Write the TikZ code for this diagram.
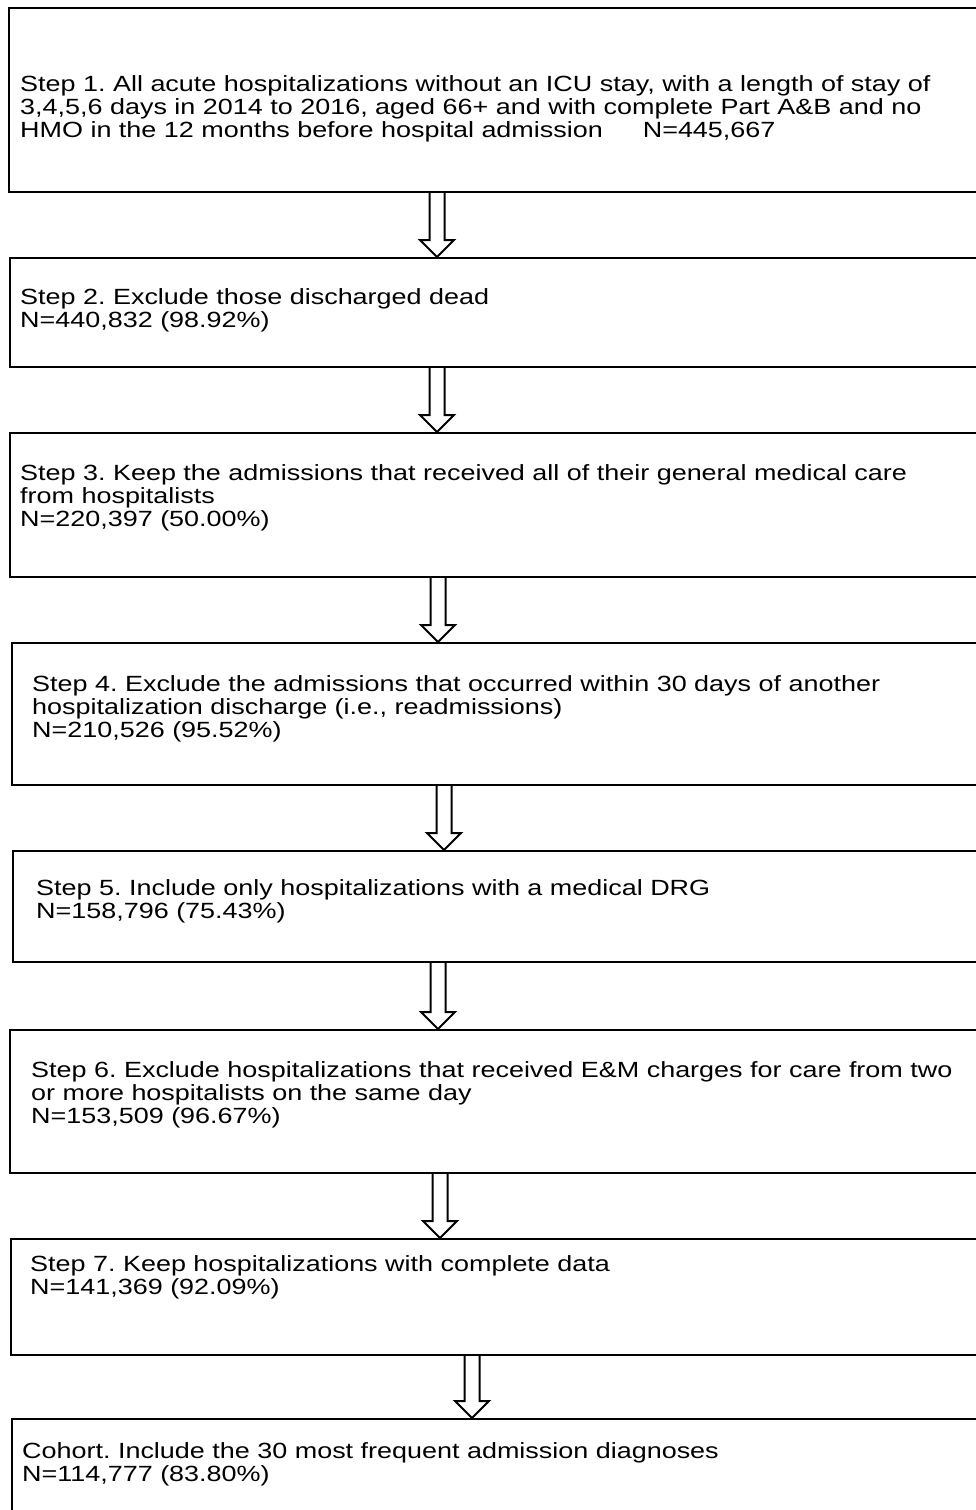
\documentclass[tikz,border=0pt]{standalone}
\usepackage{fontspec}
\setmainfont{Liberation Sans}[FakeStretch=1.225]
\usetikzlibrary{calc}
\newcommand{\fatarrow}[3]{%
  \draw[fatarrow] let \p1=(#1.south), \p2=(#2.north) in
    (#3pt-7.5pt,\y1) -- (#3pt-7.5pt,\y2+17pt) -- (#3pt-17pt,\y2+17pt) -- (#3pt,\y2)
    -- (#3pt+17pt,\y2+17pt) -- (#3pt+7.5pt,\y2+17pt) -- (#3pt+7.5pt,\y1);%
}
\begin{document}
\frenchspacing
\begin{tikzpicture}[x=1pt,y=-1pt,
  stepbox/.style={draw=black, line width=2.2pt, rectangle, inner sep=0pt, anchor=north west},
  steptext/.style={anchor=north west, inner sep=0pt, align=left, font=\fontsize{22}{23}\selectfont},
  fatarrow/.style={draw=black, fill=white, line width=2pt, line join=miter}]
\useasboundingbox[fill=white] (0,0) rectangle (975,1510);

\node[stepbox, minimum width=982pt, minimum height=184pt] (b1) at (8,7) {};
\node[stepbox, minimum width=981pt, minimum height=109pt] (b2) at (9,257) {};
\node[stepbox, minimum width=981pt, minimum height=144pt] (b3) at (9,432) {};
\node[stepbox, minimum width=979pt, minimum height=142pt] (b4) at (11,642) {};
\node[stepbox, minimum width=978pt, minimum height=111pt] (b5) at (12,850) {};
\node[stepbox, minimum width=981pt, minimum height=143pt] (b6) at (9,1029) {};
\node[stepbox, minimum width=980pt, minimum height=116pt] (b7) at (10,1238) {};
\node[stepbox, minimum width=979pt, minimum height=120pt] (b8) at (11,1418) {};

\node[steptext] (t1) at (20,75.5) {Step 1. All acute hospitalizations without an ICU stay, with a length of stay of\\3,4,5,6 days in 2014 to 2016, aged 66+ and with complete Part A\&B and no\\HMO in the 12 months before hospital admission\hspace{40pt}N=445,667};
\node[steptext] (t2) at (20,288.5) {Step 2. Exclude those discharged dead\\N=440,832 (98.92\%)};
\node[steptext] (t3) at (20,464.5) {Step 3. Keep the admissions that received all of their general medical care\\from hospitalists\\N=220,397 (50.00\%)};
\node[steptext] (t4) at (32,675.5) {Step 4. Exclude the admissions that occurred within 30 days of another\\hospitalization discharge (i.e., readmissions)\\N=210,526 (95.52\%)};
\node[steptext] (t5) at (36,879.5) {Step 5. Include only hospitalizations with a medical DRG\\N=158,796 (75.43\%)};
\node[steptext] (t6) at (31,1061.5) {Step 6. Exclude hospitalizations that received E\&M charges for care from two\\or more hospitalists on the same day\\N=153,509 (96.67\%)};
\node[steptext] (t7) at (30,1255.5) {Step 7. Keep hospitalizations with complete data\\N=141,369 (92.09\%)};
\node[steptext] (t8) at (22,1442.5) {Cohort. Include the 30 most frequent admission diagnoses\\N=114,777 (83.80\%)};

\fatarrow{b1}{b2}{437}
\fatarrow{b2}{b3}{437}
\fatarrow{b3}{b4}{438}
\fatarrow{b4}{b5}{444}
\fatarrow{b5}{b6}{438}
\fatarrow{b6}{b7}{440}
\fatarrow{b7}{b8}{472}
\end{tikzpicture}
\end{document}
